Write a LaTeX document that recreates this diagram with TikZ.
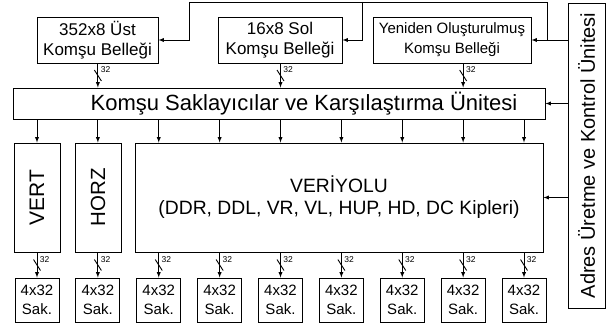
\documentclass[tikz,border=0pt]{standalone}
\usepackage{fontspec}
\setmainfont{Liberation Sans}
\usetikzlibrary{arrows}

\newcommand{\fsize}[2]{\fontsize{#1}{#2}\selectfont}

\tikzset{
	box/.style={draw, line width=0.9pt, inner sep=0pt, align=center},
	sakbox/.style={box, minimum width=44pt, minimum height=44pt, font=\fsize{15}{19}},
	buswidth/.pic={
		\draw (-3.5,-5.5) -- (3.5,5.5);
		\node[anchor=south west, inner sep=0pt, font=\fsize{8.5}{9}] (-lbl) at (2.5,-2) {32};
	}
}

\begin{document}
\begin{tikzpicture}[x=1pt, y=-1pt, line width=0.9pt, >=latex]
	\useasboundingbox (0,0) rectangle (612,331);

	% columns
	\foreach \i in {1,...,9}
		\coordinate (c\i) at ({37+60.875*(\i-1)}, 0);

	% top memories
	\node[box, minimum width=121pt, minimum height=46pt, font=\fsize{17}{20}] (ust) at (97.5,40) {352x8 Üst\\Komşu Belleği};
	\node[box, minimum width=124pt, minimum height=46pt, font=\fsize{17}{20}] (sol) at (280,40) {16x8 Sol\\Komşu Belleği};
	\node[box, minimum width=158pt, minimum height=46pt, font=\fsize{15}{20}] (yen) at (452,40) {Yeniden Oluşturulmuş\\Komşu Belleği};

	% middle
	\node[box, minimum width=532pt, minimum height=31pt, font=\fsize{22}{22}] (kom) at (279,103.5) {\hspace*{50pt}Komşu Saklayıcılar ve Karşılaştırma Ünitesi};
	\node[box, minimum width=46pt, minimum height=109pt, font=\fsize{21}{22}] (vert) at (37,197.5) {\rotatebox{90}{VERT}};
	\node[box, minimum width=46pt, minimum height=109pt, font=\fsize{20.5}{22}] (horz) at (98,197.5) {\rotatebox{90}{HORZ}};
	\node[box, minimum width=408pt, minimum height=109pt, font=\fsize{19.3}{22}] (veri) at (339,197.5) {VERİYOLU\\(DDR, DDL, VR, VL, HUP, HD, DC Kipleri)};

	% control unit
	\node[box, minimum width=37pt, minimum height=305pt, font=\fsize{20}{22}] (adres) at (586.5,155.5) {\rotatebox{90}{Adres Üretme ve Kontrol Ünitesi}};

	% registers
	\foreach \i in {1,...,9}
		\node[sakbox] (sak\i) at (c\i |- 0,300) {4x32\\Sak.};

	% control lines
	\coordinate (t1) at (547,2);
	\coordinate (t2) at (362,2);
	\coordinate (t3) at (189,2);
	\draw[->] (adres.west |- yen.east) -- (yen.east);
	\draw (t1 |- yen.east) -- (t1) -- (t3);
	\draw[->] (t3) |- (ust.east);
	\draw[->] (t2) |- (sol.east);
	\draw[->] (adres.west |- kom.east) -- (kom.east);
	\draw[->] (adres.west |- veri.east) -- (veri.east);

	% memories to registers
	\foreach \n/\i in {ust/2, sol/5, yen/8} {
		\draw[->] (\n.south -| c\i) -- coordinate[midway] (m\i) (kom.north -| c\i);
		\pic (tb\i) at (m\i) {buswidth};
	}

	% data paths
	\foreach \n/\i in {vert/1, horz/2, veri/3, veri/4, veri/5, veri/6, veri/7, veri/8, veri/9} {
		\draw[->] (kom.south -| c\i) -- (\n.north -| c\i);
		\draw[->] (\n.south -| c\i) -- coordinate[midway] (w\i) (sak\i.north);
		\pic (bb\i) at (w\i) {buswidth};
	}
\end{tikzpicture}
\end{document}
